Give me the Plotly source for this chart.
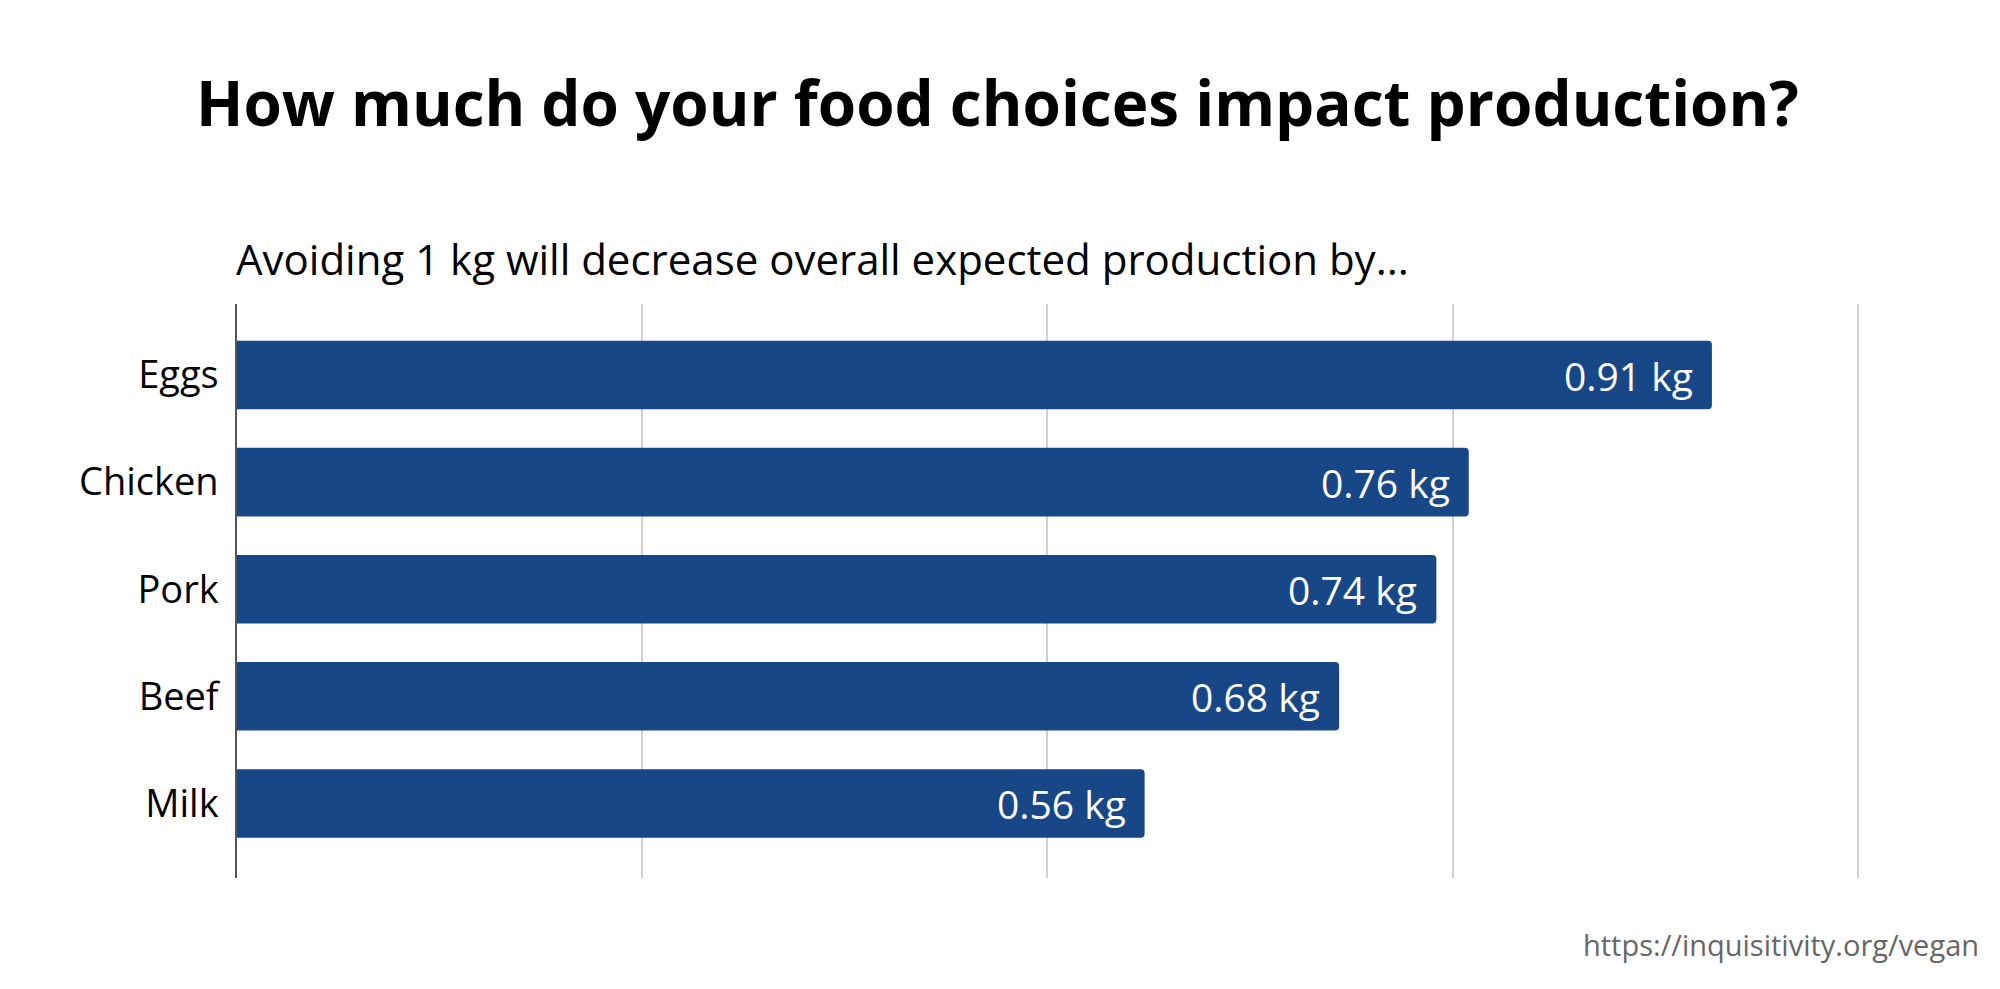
import plotly.graph_objects as go

categories = ["Eggs", "Chicken", "Pork", "Beef", "Milk"]
values = [0.91, 0.76, 0.74, 0.68, 0.56]
value_labels = ["0.91 kg", "0.76 kg", "0.74 kg", "0.68 kg", "0.56 kg"]
x_ticks = [0, 0.25, 0.5, 0.75, 1.0]

title_text = "How much do your food choices impact production?"
subtitle_text = "Avoiding 1 kg will decrease overall expected production by..."
source_text = "https://inquisitivity.org/vegan"

BAR = "#174787"
FONT = "Open Sans"

fig = go.Figure()
fig.add_trace(go.Bar(
    x=values, y=categories, orientation="h",
    marker=dict(color=BAR, line=dict(width=0), cornerradius=4),
    width=0.64,
    hoverinfo="skip",
))

for v, c, t in zip(values, categories, value_labels):
    fig.add_annotation(x=v, y=c, text=t, xanchor="right", yanchor="middle",
                       xshift=-17, showarrow=False,
                       font=dict(family=FONT, size=39, color="white"))

fig.add_annotation(xref="paper", yref="paper", x=0.468, y=1.352, text="<b>" + title_text + "</b>",
                   showarrow=False, xanchor="center", yanchor="middle",
                   font=dict(family=FONT, size=62, color="black"))
fig.add_annotation(xref="paper", yref="paper", x=-0.002, y=1.08, text=subtitle_text,
                   showarrow=False, xanchor="left", yanchor="middle",
                   font=dict(family=FONT, size=42, color="black"))
fig.add_annotation(xref="paper", yref="paper", x=1.074, y=-0.115, text=source_text,
                   showarrow=False, xanchor="right", yanchor="middle",
                   font=dict(family=FONT, size=29, color="#666666"))

fig.update_layout(
    width=2000, height=989,
    margin=dict(l=229, r=147, t=296, b=119),
    paper_bgcolor="white", plot_bgcolor="white",
    showlegend=False,
    font=dict(family=FONT, color="black"),
    xaxis=dict(range=[0, 1.002], tickvals=x_ticks, showticklabels=False,
               showgrid=True, gridcolor="#d0d0d0", gridwidth=1.5,
               zeroline=False, showline=False, ticks=""),
    yaxis=dict(categoryorder="array", categoryarray=categories,
               range=[4.696, -0.663], showgrid=False, zeroline=False,
               showline=True, linecolor="#555555", linewidth=1.5,
               ticks="", ticklabelstandoff=9,
               tickfont=dict(family=FONT, size=38, color="black")),
)

fig.write_html("out.html")
